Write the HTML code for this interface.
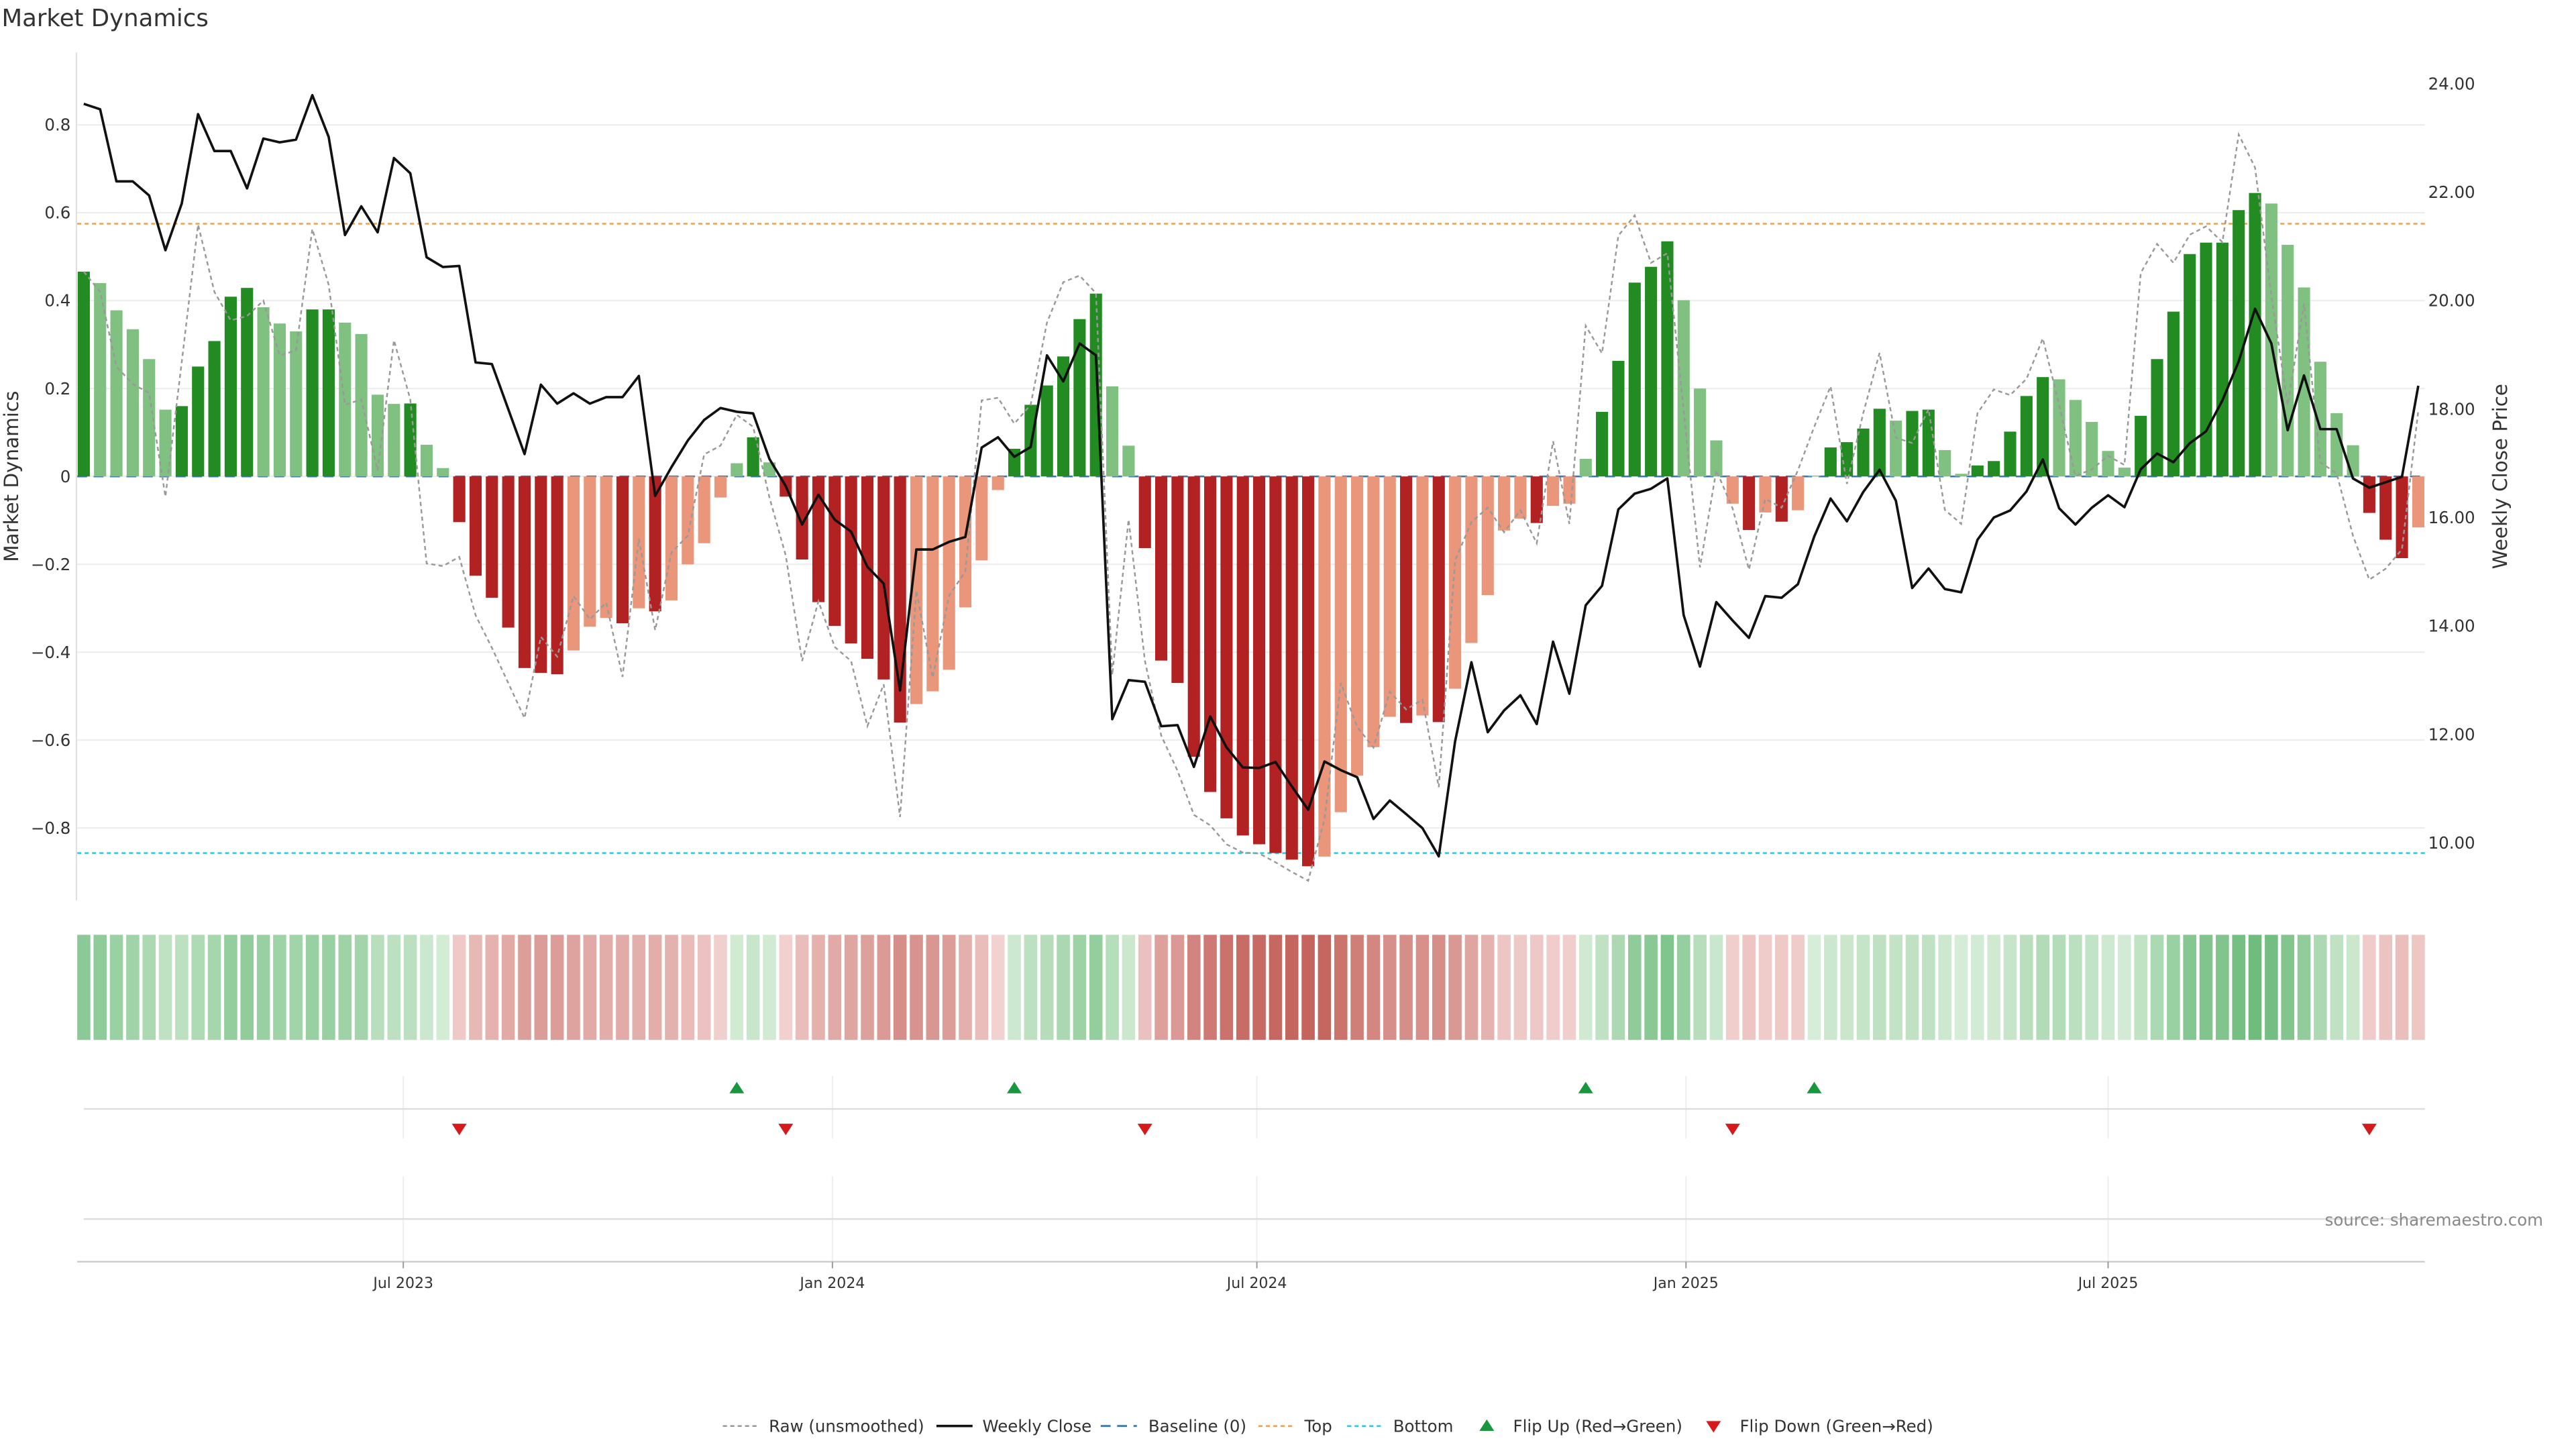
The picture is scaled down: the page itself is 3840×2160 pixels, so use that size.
<!DOCTYPE html>
<html><head><meta charset="utf-8"><title>Market Dynamics</title>
<style>
html,body{margin:0;padding:0;background:#fff;}
svg{display:block;font-family:"DejaVu Sans","Liberation Sans",sans-serif;}
</style></head>
<body>
<svg id="chart" width="3840" height="2160" viewBox="0 0 1568 882" preserveAspectRatio="none" xmlns="http://www.w3.org/2000/svg">
<rect x="0" y="0" width="1568" height="882" fill="#fff"/>
<text x="1" y="16" font-size="14.5" fill="#333">Market Dynamics</text>
<g id="grid"></g>
<g id="refs"></g>
<g id="bars"></g>
<g id="lines"></g>
<g id="axes"></g>
<g id="heat"></g>
<g id="events"></g>
<g id="xaxis"></g>
<text x="1548" y="746" font-size="10" fill="#888" text-anchor="end">source: sharemaestro.com</text>
<g id="legend"></g>
</svg>
<script>
const dynamics = [0.466,0.44,0.378,0.335,0.267,0.152,0.16,0.25,0.308,0.409,0.429,0.385,0.348,0.33,0.38,0.38,0.35,0.324,0.186,0.165,0.166,0.072,0.019,
-0.104,-0.226,-0.276,-0.344,-0.436,-0.447,-0.45,-0.396,-0.342,-0.322,-0.334,-0.30,-0.307,-0.282,-0.20,-0.152,-0.048,
0.03,0.089,0.032,
-0.046,-0.189,-0.286,-0.34,-0.38,-0.415,-0.462,-0.56,-0.518,-0.489,-0.44,-0.298,-0.191,-0.031,
0.063,0.163,0.207,0.273,0.358,0.416,0.205,0.07,
-0.163,-0.419,-0.47,-0.638,-0.718,-0.778,-0.817,-0.837,-0.857,-0.872,-0.887,-0.865,-0.764,-0.681,-0.616,-0.547,-0.561,-0.544,-0.559,-0.483,-0.379,-0.27,-0.123,-0.096,-0.106,-0.067,-0.062,
0.04,0.147,0.263,0.441,0.477,0.535,0.401,0.2,0.082,
-0.062,-0.122,-0.082,-0.103,-0.077,
0.002,0.066,0.078,0.109,0.154,0.127,0.149,0.152,0.06,0.006,0.025,0.035,0.102,0.183,0.226,0.221,0.174,0.124,0.058,0.02,0.138,0.267,0.375,0.506,0.532,0.532,0.606,0.645,0.621,0.527,0.43,0.261,0.144,0.071,
-0.083,-0.144,-0.186,-0.116];
const weeklyClose = [23.63,23.53,22.2,22.2,21.94,20.93,21.79,23.44,22.76,22.76,22.07,22.99,22.92,22.97,23.79,23.02,21.21,21.74,21.26,22.63,22.35,20.8,20.62,20.64,18.86,18.83,18.0,17.17,18.45,18.1,18.29,18.1,18.22,18.22,18.61,16.4,16.93,17.42,17.8,18.02,17.95,17.92,17.08,16.58,15.87,16.42,15.96,15.74,15.09,14.78,12.81,15.41,15.41,15.55,15.64,17.29,17.48,17.12,17.3,18.99,18.51,19.21,18.99,12.28,13.0,12.97,12.15,12.17,11.4,12.33,11.76,11.39,11.38,11.49,11.04,10.61,11.5,11.34,11.21,10.44,10.78,10.53,10.27,9.75,11.87,13.33,12.04,12.44,12.72,12.19,13.71,12.75,14.38,14.74,16.15,16.44,16.53,16.72,14.2,13.25,14.44,14.1,13.78,14.55,14.52,14.77,15.65,16.35,15.93,16.47,16.88,16.31,14.7,15.06,14.68,14.62,15.59,16.0,16.13,16.48,17.07,16.17,15.87,16.18,16.41,16.19,16.89,17.18,17.02,17.37,17.59,18.16,18.88,19.85,19.21,17.61,18.62,17.63,17.63,16.72,16.55,16.65,16.75,18.43];
const rawValues = [0.466,0.42,0.25,0.21,0.19,-0.046,0.26,0.573,0.42,0.355,0.365,0.4,0.275,0.287,0.563,0.436,0.163,0.175,0.014,0.31,0.175,-0.198,-0.204,-0.183,-0.316,-0.39,-0.47,-0.55,-0.365,-0.41,-0.272,-0.325,-0.287,-0.456,-0.142,-0.35,-0.173,-0.135,0.05,0.07,0.14,0.113,-0.048,-0.18,-0.42,-0.284,-0.388,-0.42,-0.568,-0.473,-0.775,-0.26,-0.458,-0.272,-0.216,0.173,0.179,0.12,0.163,0.35,0.442,0.457,0.417,-0.452,-0.098,-0.42,-0.59,-0.67,-0.77,-0.794,-0.837,-0.856,-0.858,-0.878,-0.9,-0.92,-0.78,-0.47,-0.57,-0.617,-0.49,-0.53,-0.508,-0.707,-0.191,-0.104,-0.071,-0.127,-0.077,-0.152,0.08,-0.108,0.343,0.28,0.548,0.594,0.486,0.508,0.15,-0.207,0.014,-0.073,-0.212,-0.051,-0.071,0.014,0.113,0.205,-0.017,0.144,0.281,0.088,0.076,0.153,-0.076,-0.108,0.144,0.198,0.185,0.222,0.314,0.163,0.001,0.016,0.047,0.026,0.463,0.529,0.486,0.55,0.569,0.533,0.778,0.703,0.411,0.163,0.393,0.032,0.007,-0.135,-0.235,-0.21,-0.166,0.15];
const topLevel = 0.575;
const bottomLevel = -0.857;
const leftTicks = [-0.8,-0.6,-0.4,-0.2,0,0.2,0.4,0.6,0.8];
const rightTicks = [10,12,14,16,18,20,22,24];
const dateTickLabels = ["Jul 2023","Jan 2024","Jul 2024","Jan 2025","Jul 2025"];
const dateTickValues = ["2023-07-01","2024-01-01","2024-07-01","2025-01-01","2025-07-01"];
const startDate = "2023-02-14";

const NS = "http://www.w3.org/2000/svg";
const n = dynamics.length;
const X0 = 51, X1 = 1472, PL = 47, PR = 1476;
const step = (X1 - X0) / (n - 1);
function xB(i){ return X0 + i * step; }
function yL(v){ return 290 - v * 267.5; }
function yR(p){ return 513 - (p - 10) * 33; }
function xDate(s){ const d=(new Date(s+"T00:00:00Z")-new Date(startDate+"T00:00:00Z"))/86400000; return X0 + (d/7)*step; }
function mk(tag, attrs, parent){ const e=document.createElementNS(NS,tag); for(const k in attrs) e.setAttribute(k,attrs[k]); parent.appendChild(e); return e; }
const G = id => document.getElementById(id);

leftTicks.forEach(t=>{
  const l = mk("line",{x1:PL,x2:PR,y1:yL(t),y2:yL(t),stroke:"#ececec","stroke-width":0.8},G("grid"));
  
  
});
let r = mk("line",{x1:PL,x2:PR,y1:yL(topLevel),y2:yL(topLevel),stroke:"#f0a050","stroke-width":1,"stroke-dasharray":"2.5,2"},G("refs"));


r = mk("line",{x1:PL,x2:PR,y1:yL(bottomLevel),y2:yL(bottomLevel),stroke:"#30c8e0","stroke-width":1,"stroke-dasharray":"2.5,2"},G("refs"));



const bw = 7.4;
for(let i=0;i<n;i++){
  const v = dynamics[i];
  const prev = i>0 ? Math.abs(dynamics[i-1]) : 0;
  const strong = Math.abs(v) >= prev;
  const col = v>=0 ? (strong?"#228b22":"#80c080") : (strong?"#b22222":"#e9967a");
  const y = Math.min(yL(v), yL(0));
  const h = Math.abs(yL(v)-yL(0));
  const b = mk("rect",{x:xB(i)-bw/2,y:y,width:bw,height:Math.max(h,0.01),fill:col},G("bars"));
  
  
}
r = mk("line",{x1:PL,x2:PR,y1:yL(0),y2:yL(0),stroke:"#3a78b0","stroke-width":1.1,"stroke-dasharray":"6,4"},G("refs"));



let d = rawValues.map((v,i)=>(i?"L":"M")+xB(i).toFixed(2)+","+yL(v).toFixed(2)).join("");
let p = mk("path",{d:d,fill:"none",stroke:"#999","stroke-width":1,"stroke-dasharray":"2.5,2"},G("lines"));


d = weeklyClose.map((v,i)=>(i?"L":"M")+xB(i).toFixed(2)+","+yR(v).toFixed(2)).join("");
p = mk("path",{d:d,fill:"none",stroke:"#111","stroke-width":1.5,"stroke-linejoin":"round"},G("lines"));



let a = mk("line",{x1:46.5,x2:46.5,y1:32,y2:548,stroke:"#ddd","stroke-width":0.8},G("axes"));


leftTicks.forEach(t=>{
  const tx = mk("text",{x:43,y:yL(t)+3.5,"font-size":10,fill:"#333","text-anchor":"end"},G("axes"));
  tx.textContent = t===0 ? "0" : (t<0?"\u2212":"")+Math.abs(t).toFixed(1);
  
  
});
rightTicks.forEach(t=>{
  const tx = mk("text",{x:1478,y:yR(t)+3.5,"font-size":10,fill:"#333"},G("axes"));
  tx.textContent = t.toFixed(2);
  
  
});
let t1 = mk("text",{x:0,y:0,"font-size":12,fill:"#333","text-anchor":"middle",transform:"translate(11,290) rotate(-90)"},G("axes"));
t1.textContent="Market Dynamics";


t1 = mk("text",{x:0,y:0,"font-size":12,fill:"#333","text-anchor":"middle",transform:"translate(1526,290) rotate(-90)"},G("axes"));
t1.textContent="Weekly Close Price";



function lerp(a,b,t){ return a.map((x,k)=>Math.round(x+(b[k]-x)*t)); }
for(let i=0;i<n;i++){
  const v = dynamics[i];
  let c;
  if(v>=0){ const t=Math.min(1,v/0.65); c=lerp([214,237,215],[110,188,124],t); }
  else { const t=Math.min(1,-v/0.9); c=lerp([243,214,212],[196,98,90],t); }
  const cell = mk("rect",{x:xB(i)-4,y:569,width:8,height:64,fill:"rgb("+c.join(",")+")"},G("heat"));
  
  
}

const ev = G("events");
dateTickValues.forEach(s=>{
  const x = xDate(s);
  let l = mk("line",{x1:x,x2:x,y1:655,y2:693,stroke:"#eee","stroke-width":0.8},ev);
  
  
  l = mk("line",{x1:x,x2:x,y1:716,y2:768,stroke:"#eee","stroke-width":0.8},ev);
  
  
});
let hl = mk("line",{x1:51,x2:PR,y1:675,y2:675,stroke:"#ddd","stroke-width":1},ev);


hl = mk("line",{x1:51,x2:PR,y1:742,y2:742,stroke:"#ddd","stroke-width":1},ev);


for(let i=1;i<n;i++){
  const a0 = dynamics[i-1], a1 = dynamics[i];
  if(a0<0 && a1>=0){
    const x=xB(i);
    const m = mk("path",{d:`M${x-4.5},665.5L${x+4.5},665.5L${x},658.5Z`,fill:"#1a9641"},ev);
    
    
  } else if(a0>=0 && a1<0){
    const x=xB(i);
    const m = mk("path",{d:`M${x-4.5},684L${x+4.5},684L${x},691Z`,fill:"#d7191c"},ev);
    
    
  }
}

const xa = G("xaxis");
let xl = mk("line",{x1:PL,x2:PR,y1:768,y2:768,stroke:"#ccc","stroke-width":1},xa);


dateTickValues.forEach((s,k)=>{
  const x=xDate(s);
  const tk = mk("line",{x1:x,x2:x,y1:768,y2:772,stroke:"#999","stroke-width":0.8},xa);
  
  
  const tx = mk("text",{x:x,y:784,"font-size":9,fill:"#333","text-anchor":"middle"},xa);
  tx.textContent = dateTickLabels[k];
  
  
});

const lg = G("legend");
function legText(x,s){ const t=mk("text",{x:x,y:871.5,"font-size":10,fill:"#333"},lg); t.textContent=s; return t; }
let li;
li = mk("line",{x1:440,x2:462,y1:868,y2:868,stroke:"#999","stroke-width":1,"stroke-dasharray":"2.5,2"},lg);
 
li = legText(468,"Raw (unsmoothed)");
 
li = mk("line",{x1:570,x2:592,y1:868,y2:868,stroke:"#111","stroke-width":1.5},lg);
 
li = legText(598,"Weekly Close");
 
li = mk("line",{x1:670,x2:692,y1:868,y2:868,stroke:"#3a78b0","stroke-width":1.2,"stroke-dasharray":"6,4"},lg);
 
li = legText(699,"Baseline (0)");
 
li = mk("line",{x1:766,x2:788,y1:868,y2:868,stroke:"#f0a050","stroke-width":1,"stroke-dasharray":"2.5,2"},lg);
 
li = legText(794,"Top");
 
li = mk("line",{x1:820,x2:842,y1:868,y2:868,stroke:"#30c8e0","stroke-width":1,"stroke-dasharray":"2.5,2"},lg);
 
li = legText(848,"Bottom");
 
li = mk("path",{d:"M900.5,871L909.5,871L905,864Z",fill:"#1a9641"},lg);
 
li = legText(921,"Flip Up (Red\u2192Green)");
 
li = mk("path",{d:"M1038.5,865L1047.5,865L1043,872Z",fill:"#d7191c"},lg);
 
li = legText(1059,"Flip Down (Green\u2192Red)");
 
</script>
</body></html>
